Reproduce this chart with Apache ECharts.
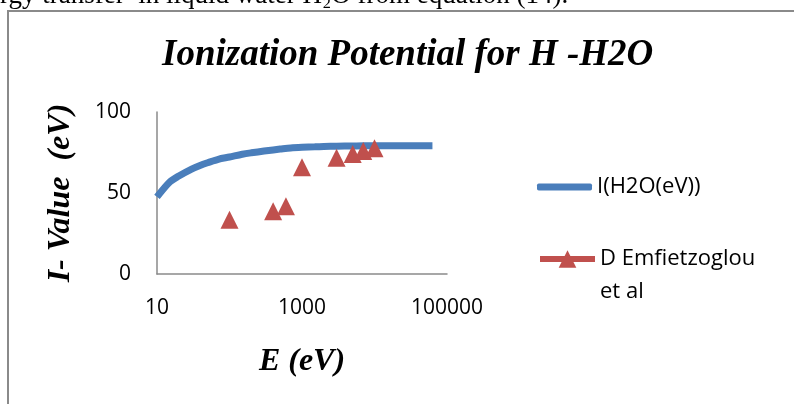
<!DOCTYPE html>
<html>
<head>
<meta charset="utf-8">
<script src="https://cdn.jsdelivr.net/npm/echarts/dist/echarts.min.js"></script>
<style>
	body { margin: 0; background: #fff; }
	#main { width: 794px; height: 404px; }
</style>
</head>
<body>
<div id="main"></div>
<script type="text/javascript">
	// I(H2O) curve, energies in eV
	var curveE = [10, 15, 20, 30, 40, 50, 70, 100, 150, 200, 300, 400, 500, 700,
		1000, 1500, 2000, 3000, 5000, 7000, 10000, 20000, 40000, 63000];
	var curveI = [47.6, 56.8, 60.5, 64.8, 67.2, 68.7, 70.8, 72.2, 73.9, 74.8, 75.9, 76.6, 77.1, 77.8,
		78.2, 78.5, 78.7, 78.9, 79.0, 79.1, 79.1, 79.2, 79.2, 79.2];
	// D Emfietzoglou et al points
	var refE = [100, 400, 600, 1000, 3000, 5000, 7000, 10000];
	var refI = [33.5, 38.7, 41.8, 65.9, 71.7, 74.1, 76.0, 77.6];
	var yTicks = [0, 50, 100];

	var sansFont = '"Open Sans", "Liberation Sans", sans-serif';
	var scriptFont = '"Liberation Serif", "DejaVu Serif", serif';

	function pairs(xs, ys) {
		var res = [];
		for (var i = 0; i < xs.length; i++) {
			res.push([xs[i], ys[i]]);
		}
		return res;
	}

	var chart = echarts.init(document.getElementById('main'));
	chart.setOption({
		animation: false,
		title: {
			text: 'Ionization Potential for H -H2O',
			left: 162,
			top: 37,
			padding: 0,
			textStyle: {
				fontFamily: scriptFont,
				fontStyle: 'italic',
				fontWeight: 'bold',
				fontSize: 37,
				color: '#000'
			}
		},
		graphic: [{
			type: 'rect',
			shape: { x: 8, y: 11, width: 900, height: 500 },
			style: { fill: 'none', stroke: '#8a8a8a', lineWidth: 2 },
			silent: true
		}, {
			// tail of the paragraph above the figure
			type: 'text',
			left: 0,
			top: -18,
			style: {
				text: 'rgy transfer  in liquid water H\u2082O from equation (14).',
				font: '27px "Liberation Serif", serif',
				fill: '#000'
			},
			silent: true
		}],
		legend: [{
			orient: 'vertical',
			left: 537,
			top: 172,
			padding: 0,
			itemWidth: 55,
			itemHeight: 7,
			data: [{ name: 'I(H2O(eV))', icon: 'roundRect' }],
			textStyle: { fontFamily: sansFont, fontSize: 22, color: '#000', lineHeight: 30 }
		}, {
			orient: 'vertical',
			left: 537,
			top: 209.5,
			padding: 0,
			itemWidth: 55,
			itemHeight: 22,
			data: ['D Emfietzoglou et al'],
			lineStyle: { width: 6, opacity: 1 },
			formatter: function (name) {
				// empty first line keeps the symbol level with "D Emfietzoglou"
				return '\nD Emfietzoglou\net al';
			},
			textStyle: {
				fontFamily: sansFont, fontSize: 22, color: '#000', lineHeight: 33
			}
		}],
		grid: {
			left: 157,
			top: 112,
			width: 290,
			height: 162
		},
		xAxis: {
			type: 'log',
			logBase: 10,
			min: 10,
			max: 100000,
			name: 'E (eV)',
			nameLocation: 'middle',
			nameGap: 72,
			nameTextStyle: {
				fontFamily: scriptFont,
				fontStyle: 'italic',
				fontWeight: 'bold',
				fontSize: 32,
				color: '#000'
			},
			axisLine: { lineStyle: { color: '#8a8a8a', width: 1.5 } },
			axisTick: { show: false },
			splitLine: { show: false },
			minorTick: { show: false },
			axisLabel: {
				margin: 24,
				fontFamily: sansFont,
				fontSize: 21,
				color: '#000',
				formatter: function (v) {
					var e = Math.round(Math.log(v) / Math.LN10);
					return e % 2 === 1 ? String(Math.round(v)) : '';
				}
			}
		},
		yAxis: {
			type: 'value',
			min: yTicks[0],
			max: yTicks[yTicks.length - 1],
			interval: yTicks[1] - yTicks[0],
			name: 'I- Value  (eV)',
			nameLocation: 'middle',
			nameGap: 80,
			nameTextStyle: {
				fontFamily: scriptFont,
				fontStyle: 'italic',
				fontWeight: 'bold',
				fontSize: 32,
				color: '#000'
			},
			axisLine: { show: true, lineStyle: { color: '#8a8a8a', width: 1.5 } },
			axisTick: { show: false },
			splitLine: { show: false },
			axisLabel: {
				margin: 26,
				fontFamily: sansFont,
				fontSize: 21,
				color: '#000'
			}
		},
		series: [{
			name: 'I(H2O(eV))',
			type: 'line',
			data: pairs(curveE, curveI),
			smooth: 0.3,
			showSymbol: false,
			color: '#4A7EBB',
			lineStyle: { width: 7, color: '#4A7EBB' },
			z: 2
		}, {
			name: 'D Emfietzoglou et al',
			type: 'line',
			data: pairs(refE, refI),
			symbol: 'triangle',
			symbolSize: 18,
			showSymbol: true,
			color: '#C0504D',
			lineStyle: { opacity: 0 },
			itemStyle: { color: '#C0504D' },
			z: 3
		}]
	});
</script>
</body>
</html>
